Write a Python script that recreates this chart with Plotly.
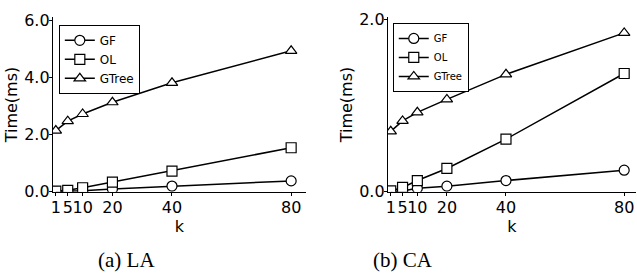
import plotly.graph_objects as go

k = [1, 5, 10, 20, 40, 80]
k_labels = ["1", "5", "10", "20", "40", "80"]

la_gf = [0.01, 0.02, 0.04, 0.10, 0.20, 0.38]
la_ol = [0.02, 0.05, 0.14, 0.34, 0.72, 1.54]
la_gtree = [2.14, 2.47, 2.72, 3.13, 3.81, 4.93]

ca_gf = [0.0, 0.01, 0.04, 0.065, 0.13, 0.25]
ca_ol = [0.01, 0.05, 0.13, 0.27, 0.61, 1.37]
ca_gtree = [0.70, 0.82, 0.92, 1.07, 1.36, 1.84]

series_names = ["GF", "OL", "GTree"]
symbols = ["circle", "square", "triangle-up"]

fig = go.Figure()

panels = [
    ("x", "y", [la_gf, la_ol, la_gtree], "legend"),
    ("x2", "y2", [ca_gf, ca_ol, ca_gtree], "legend2"),
]
for xa, ya, data, leg in panels:
    for name, sym, vals in zip(series_names, symbols, data):
        fig.add_trace(go.Scatter(
            x=k, y=vals, name=name, xaxis=xa, yaxis=ya, legend=leg,
            mode="lines+markers",
            line=dict(color="black", width=1.5),
            marker=dict(symbol=sym, size=10, color="white",
                        line=dict(color="black", width=1.2)),
        ))

font16 = dict(family="DejaVu Sans", size=16, color="black")
axis_common = dict(
    showline=True, linecolor="black", linewidth=1, showgrid=False, zeroline=False,
    ticks="outside", ticklen=3, tickcolor="black", tickangle=0,
    ticklabeloverflow="allow", tickfont=font16,
)

fig.update_layout(
    width=637, height=278, margin=dict(l=0, r=0, t=0, b=0),
    plot_bgcolor="white", paper_bgcolor="white",
    xaxis=dict(domain=[51/637, 305/637], range=[0, 85], tickvals=k, ticktext=k_labels,
               anchor="y", ticklabelstandoff=-2,
               title=dict(text="k", standoff=0, font=font16),
               **axis_common),
    yaxis=dict(domain=[1-196.5/278, 1-10/278], range=[0, 6.1], tickvals=[0, 2, 4, 6],
               ticktext=["0.0", "2.0", "4.0", "6.0"], anchor="x", ticklabelstandoff=-4,
               title=dict(text="Time(ms)", standoff=2, font=font16),
               **axis_common),
    xaxis2=dict(domain=[387/637, 636/637], range=[0, 84], tickvals=k, ticktext=k_labels,
                anchor="y2", ticklabelstandoff=-2,
                title=dict(text="k", standoff=0, font=font16),
                **axis_common),
    yaxis2=dict(domain=[1-196.5/278, 1-10/278], range=[0, 2.02], tickvals=[0, 2],
                ticktext=["0.0", "2.0"], anchor="x2", ticklabelstandoff=-4,
                title=dict(text="Time(ms)", standoff=2, font=font16),
                **axis_common),
    legend=dict(x=57/637, y=1-18/278, xanchor="left", yanchor="top",
                bordercolor="black", borderwidth=1, bgcolor="white",
                font=dict(family="DejaVu Sans", size=12, color="black"),
                tracegroupgap=0, itemwidth=30),
    legend2=dict(x=392/637, y=1-16/278, xanchor="left", yanchor="top",
                 bordercolor="black", borderwidth=1, bgcolor="white",
                 font=dict(family="DejaVu Sans", size=10, color="black"),
                 tracegroupgap=0, itemwidth=30),
    annotations=[
        dict(text="(a) LA", x=125/637, y=1-269/278, xref="paper", yref="paper",
             xanchor="center", yanchor="middle", showarrow=False,
             font=dict(family="Liberation Serif", size=21, color="black")),
        dict(text="(b) CA", x=402/637, y=1-269/278, xref="paper", yref="paper",
             xanchor="center", yanchor="middle", showarrow=False,
             font=dict(family="Liberation Serif", size=21, color="black")),
    ],
)

fig.write_html("out.html", config={"displayModeBar": False},
               post_script="document.body.style.margin='0';document.body.style.overflow='hidden';")
